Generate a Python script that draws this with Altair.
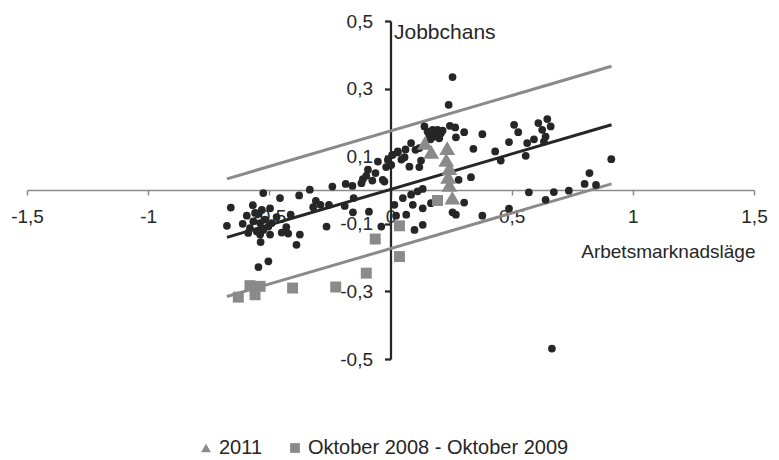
import altair as alt
import pandas as pd

# Regional observations (Arbetsmarknadsläge, Jobbchans)
dot_x = [-0.659, -0.675, -0.568, -0.525, -0.456, -0.377, -0.333, -0.593, -0.559, -0.531,
         -0.497, -0.566, -0.538, -0.518, -0.580, -0.552, -0.525, -0.504, -0.490, -0.587,
         -0.538, -0.497, -0.449, -0.422, -0.374, -0.536, -0.388, -0.545, -0.504, -0.412,
         -0.308, -0.319, -0.289, -0.254, -0.264, -0.240, -0.185, -0.157, -0.152, -0.189,
         -0.155, -0.089, -0.038, -0.114, -0.100, -0.093, -0.075, -0.032, -0.052, -0.018,
         0.003, 0.007, 0.030, -0.120,
         0.256, 0.240, 0.140, 0.153, 0.174, 0.194, 0.208, 0.181, 0.201, 0.160,
         0.245, 0.267, 0.304, 0.270, 0.379, 0.085, 0.103, 0.119, 0.342, 0.432,
         0.455, 0.510, 0.527, 0.489, 0.558, 0.564, 0.592, 0.610, 0.626, 0.647,
         0.661, 0.640, 0.633, 0.030, 0.009, -0.011, 0.058, 0.078, 0.119, 0.126,
         -0.025, 0.281, 0.332, 0.133, 0.112, 0.085, 0.051, 0.016, 0.092, 0.133,
         0.167, 0.023, 0.065, 0.099, 0.133, 0.256, 0.270, 0.304, 0.379, 0.571,
         0.640, 0.674, 0.736, 0.911, 0.821, 0.801, 0.848, 0.666, 0.489,
         0.165, 0.188, 0.215, 0.045, 0.062, -0.062, -0.470, -0.610, -0.545, -0.430]
dot_y = [-0.052, -0.106, -0.045, -0.009, -0.024, -0.016, 0.001, -0.076, -0.068, -0.059,
         -0.054, -0.093, -0.098, -0.088, -0.113, -0.123, -0.118, -0.108, -0.098, -0.127,
         -0.132, -0.132, -0.126, -0.129, -0.132, -0.154, -0.162, -0.228, -0.211, -0.073,
         -0.032, -0.051, -0.044, -0.044, -0.108, 0.010, 0.018, 0.012, -0.024, -0.047,
         -0.066, -0.064, -0.108, 0.032, 0.042, 0.060, 0.028, 0.030, 0.084, 0.068,
         0.074, 0.104, 0.114, 0.020,
         0.334, 0.252, 0.188, 0.173, 0.178, 0.178, 0.168, 0.158, 0.153, 0.163,
         0.190, 0.185, 0.171, 0.156, 0.165, 0.139, 0.119, 0.124, 0.122, 0.114,
         0.087, 0.193, 0.171, 0.142, 0.101, 0.139, 0.150, 0.198, 0.178, 0.210,
         0.188, 0.158, 0.143, 0.111, 0.104, 0.089, 0.097, 0.069, 0.068, 0.087,
         0.025, 0.030, 0.038, 0.003, -0.004, -0.014, -0.024, -0.044, -0.044, -0.054,
         -0.039, -0.076, -0.073, -0.118, -0.103, -0.066, -0.073, -0.037, -0.076, -0.007,
         -0.029, -0.006, -0.002, 0.091, 0.050, 0.018, 0.015, -0.469, -0.055,
         0.150, 0.160, 0.176, 0.090, 0.120, 0.050, -0.080, -0.100, -0.070, -0.110]

series = ["2011", "Oktober 2008 - Oktober 2009"]

tri_x = [0.142, 0.168, 0.234, 0.230, 0.243, 0.238, 0.243, 0.255]
tri_y = [0.139, 0.113, 0.124, 0.089, 0.065, 0.039, 0.015, -0.023]

sq_x = [-0.628, -0.580, -0.559, -0.538, -0.404, -0.226, -0.100, -0.063, 0.037, 0.037, 0.194]
sq_y = [-0.317, -0.283, -0.310, -0.285, -0.290, -0.287, -0.246, -0.145, -0.106, -0.197, -0.031]

# Trend line and the two band lines, given by their end points
line_names = ["Övre gräns", "Trend", "Undre gräns"]
line_x_start = -0.675
line_x_end = 0.912
line_y_start = [0.033, -0.140, -0.315]
line_y_end = [0.366, 0.193, 0.018]

x_ticks = [-1.5, -1, -0.5, 0, 0.5, 1, 1.5]
y_ticks = [-0.5, -0.3, -0.1, 0.1, 0.3, 0.5]

DARK = "#262626"
GRAY = "#8a8a8a"
FONT = "Liberation Sans"

dots = pd.DataFrame({"x": dot_x, "y": dot_y})
markers = pd.DataFrame({
    "x": tri_x + sq_x,
    "y": tri_y + sq_y,
    "serie": [series[0]] * len(tri_x) + [series[1]] * len(sq_x),
})
lines = pd.DataFrame({
    "x": [line_x_start] * 3 + [line_x_end] * 3,
    "y": line_y_start + line_y_end,
    "linje": line_names * 2,
})

W, H = 727, 338
comma = "replace(toString(datum.value), '.', ',')"

x_enc = alt.X(
    "x:Q",
    scale=alt.Scale(domain=[-1.5, 1.5], nice=False, zero=False),
    axis=alt.Axis(
        values=x_ticks, labelExpr=comma, offset=-H / 2, grid=False,
        domainColor=GRAY, domainWidth=1.5, tickColor=GRAY, tickWidth=1.5, tickSize=5,
        labelPadding=12, labelFontSize=19, labelFont=FONT, labelColor=DARK,
        labelFlush=False, labelOverlap=False,
        title="Arbetsmarknadsläge", titleFont=FONT, titleFontSize=19,
        titleFontWeight="normal", titleColor=DARK, titleAlign="right",
        titleBaseline="alphabetic", titleX=W + 1, titleY=67,
    ),
)
y_enc = alt.Y(
    "y:Q",
    scale=alt.Scale(domain=[-0.5, 0.5], nice=False, zero=False),
    axis=alt.Axis(
        values=y_ticks, labelExpr=comma, offset=-363.5, grid=False,
        domainColor=DARK, domainWidth=2.25, tickColor=DARK, tickWidth=2.25, tickSize=6,
        labelPadding=12, labelFontSize=19, labelFont=FONT, labelColor=DARK,
        labelFlush=False, labelOverlap=False,
        title="Jobbchans", titleFont=FONT, titleFontSize=21, titleFontWeight="normal",
        titleColor=DARK, titleAngle=0, titleAlign="left", titleBaseline="alphabetic",
        titleX=3, titleY=17,
    ),
)

line_layer = alt.Chart(lines).mark_line(strokeWidth=3).encode(
    x=x_enc,
    y=y_enc,
    color=alt.Color("linje:N", scale=alt.Scale(domain=line_names, range=[GRAY, DARK, GRAY]),
                    legend=None),
    detail="linje:N",
)

dot_layer = alt.Chart(dots).mark_circle(size=60, color=DARK, opacity=1).encode(
    x="x:Q", y="y:Q"
)

marker_layer = alt.Chart(markers).mark_point(filled=True, color=GRAY, opacity=1).encode(
    x="x:Q",
    y="y:Q",
    shape=alt.Shape(
        "serie:N",
        scale=alt.Scale(domain=series, range=["triangle-up", "square"]),
        legend=alt.Legend(
            title=None, orient="none", direction="horizontal", legendX=169, legendY=417,
            symbolSize=95, symbolFillColor=GRAY, symbolStrokeWidth=0, symbolOpacity=1,
            labelFont=FONT, labelFontSize=20, labelColor=DARK, labelOffset=3,
            labelLimit=0, columnPadding=22, padding=0,
        ),
    ),
    size=alt.condition(alt.datum.serie == series[0], alt.value(250), alt.value(120)),
)

chart = (
    alt.layer(line_layer, dot_layer, marker_layer)
    .properties(
        width=W, height=H,
        autosize=alt.AutoSizeParams(type="none"),
        padding={"left": 27, "top": 21, "right": 25, "bottom": 101},
        background="white",
    )
    .configure_view(stroke=None)
)

chart.save("out.html", embed_options={"renderer": "svg", "actions": False})
